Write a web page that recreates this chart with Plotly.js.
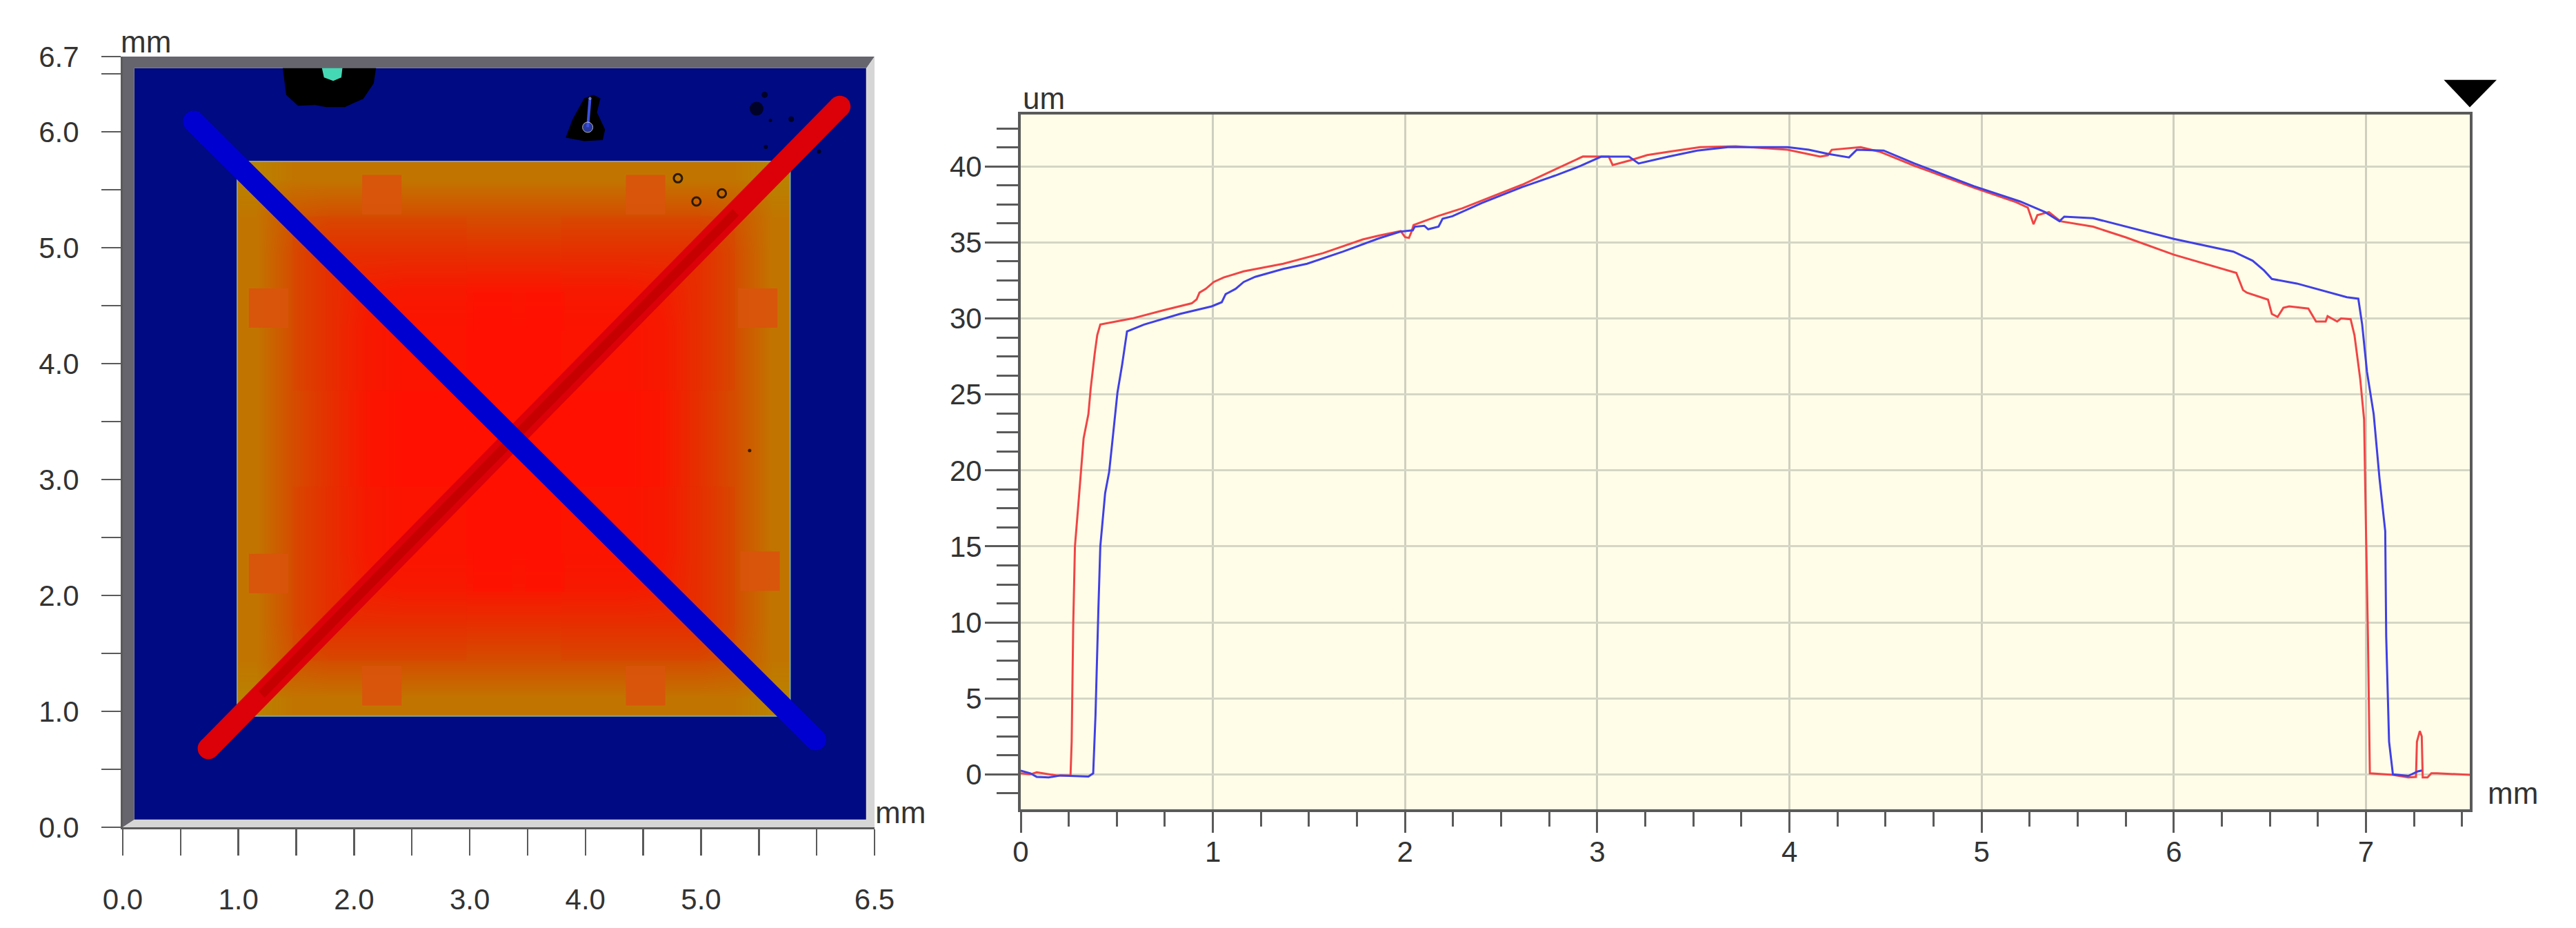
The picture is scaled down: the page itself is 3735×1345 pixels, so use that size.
<!DOCTYPE html>
<html><head><meta charset="utf-8">
<script src="https://cdn.plot.ly/plotly-3.0.1.min.js"></script>
<style>html,body{margin:0;padding:0;background:#fff}#c{width:3735px;height:1345px}</style>
</head><body><div id="c"></div>
<script>
// ---------- profile chart data (mm, um) ----------
const redX=[0,.05,.083,.145,.186,.259,.265,.273,.282,.30,.32,.327,.352,.364,.385,.398,.414,.58,.745,.89,.915,.93,.963,1.004,1.056,1.16,1.366,1.573,1.78,1.863,1.977,2.0,2.02,2.033,2.044,2.174,2.298,2.45,2.609,2.78,2.925,3.06,3.08,3.17,3.26,3.37,3.535,3.72,3.99,4.16,4.2,4.22,4.37,4.47,4.65,4.96,5.18,5.24,5.27,5.29,5.35,5.41,5.58,5.75,6,6.325,6.36,6.38,6.49,6.51,6.54,6.57,6.6,6.7,6.74,6.79,6.8,6.85,6.87,6.92,6.94,6.97,6.99,7.0,7.01,7.02,7.14,7.22,7.26,7.265,7.28,7.29,7.295,7.32,7.34,7.37,7.54];
const redY=[.07,0,.14,.03,-.07,-.07,2.15,9.8,15,17.8,20.9,22.1,23.7,25.4,27.7,28.9,29.6,30,30.55,31,31.25,31.7,31.95,32.4,32.7,33.1,33.6,34.3,35.2,35.45,35.75,35.35,35.3,35.7,36.15,36.75,37.25,38,38.8,39.8,40.66,40.65,40.1,40.4,40.75,40.97,41.27,41.33,41.1,40.65,40.74,41.1,41.27,40.97,40.05,38.6,37.65,37.3,36.2,36.8,37,36.4,36.04,35.34,34.2,33,31.87,31.7,31.24,30.3,30.1,30.7,30.8,30.65,29.8,29.8,30.15,29.8,30,29.95,28.9,26,23.35,16,9.1,.07,-.03,-.2,-.17,2.15,2.85,2.5,-.2,-.2,.07,.07,-.03];
const blueX=[0,.05,.083,.145,.207,.352,.377,.389,.404,.414,.439,.46,.48,.503,.528,.553,.642,.828,.994,1.046,1.066,1.118,1.16,1.22,1.366,1.49,1.677,1.863,1.977,2.04,2.05,2.10,2.12,2.174,2.195,2.246,2.40,2.609,2.78,2.915,3.02,3.165,3.215,3.37,3.52,3.68,3.99,4.10,4.2,4.31,4.35,4.49,4.65,4.96,5.2,5.33,5.405,5.43,5.58,6,6.31,6.41,6.47,6.51,6.64,6.9,6.96,6.98,7.005,7.04,7.07,7.1,7.105,7.12,7.14,7.22,7.27,7.29];
const blueY=[.24,.07,-.17,-.2,-.07,-.14,.07,3.9,10.85,15,18.5,19.9,22.3,25.1,27,29.15,29.6,30.3,30.8,31.07,31.6,31.95,32.4,32.74,33.26,33.6,34.4,35.27,35.72,35.8,36.04,36.1,35.87,36.04,36.56,36.73,37.6,38.65,39.4,40.05,40.65,40.65,40.2,40.65,41.05,41.27,41.27,41.1,40.83,40.6,41.1,41.05,40.2,38.7,37.7,37,36.4,36.7,36.6,35.24,34.4,33.8,33.15,32.6,32.3,31.4,31.3,29.6,26.5,23.7,19.5,16,9.1,2.15,0,-.1,.2,.25];
const cursorX=[7.405,7.68,7.54];
const cursorY=[45.7,45.7,43.9];

// ---------- height map data (mm, um) ----------
const chipX=[1.15,1.47,1.79,2.11,2.43,2.75,3.06,3.38,3.70,4.02,4.34,4.66,4.97,5.29,5.61];
const chipY=[1.12,1.44,1.76,2.08,2.40,2.72,3.04,3.35,3.67,3.99,4.31,4.63,4.95,5.27,5.59];
const chipZ=[
[30,30.5,30.5,30.5,30.5,30.5,30.5,30.5,30.5,30.5,30.5,30.5,30.5,30.5,30],
[30.5,32.5,33,33,33,33,33,33,33,33,33,33,33,32.5,30.5],
[30.5,33,35,35,35,35,35,35,35,35,35,35,35,33,30.5],
[30.5,33,35,37,37.5,37.5,37.5,37.5,37.5,37.5,37.5,37,35,33,30.5],
[30.5,33,35,37.5,39,39,39,39,39,39,39,37.5,35,33,30.5],
[30.5,33,35,37.5,39,40,40,40,40,40,39,37.5,35,33,30.5],
[30.5,33,35,37.5,39,40,41,41,41,40,39,37.5,35,33,30.5],
[30.5,33,35,37.5,39,40,41,41,41,40,39,37.5,35,33,30.5],
[30.5,33,35,37.5,39,40,41,41,41,40,39,37.5,35,33,30.5],
[30.5,33,35,37.5,39,40,40,40,40,40,39,37.5,35,33,30.5],
[30.5,33,35,37.5,39,39,39,39,39,39,39,37.5,35,33,30.5],
[30.5,33,35,37,37.5,37.5,37.5,37.5,37.5,37.5,37.5,37,35,33,30.5],
[30.5,33,35,35,35,35,35,35,35,35,35,35,35,33,30.5],
[30.5,32.5,33,33,33,33,33,33,33,33,33,33,33,32.5,30.5],
[30,30.5,30.5,30.5,30.5,30.5,30.5,30.5,30.5,30.5,30.5,30.5,30.5,30.5,30]];
const fieldX=[.1,6.43], fieldY=[.066,6.55], fieldZ=[[0]];
const blockX=[2.22,4.54,2.22,4.54], blockY=[4.52,4.52,2.19,2.19];
const padX=[2.24,4.52,1.26,5.49,1.26,5.51,2.24,4.52];
const padY=[5.46,5.46,4.48,4.48,2.19,2.21,1.22,1.22];
const innerPadX=[3.2,3.65,3.2,3.65], innerPadY=[4.45,4.45,2.2,2.2];
const outlineX=[.99,5.77,5.77,.99,.99], outlineY=[.96,.96,5.745,5.745,.96];
const voidAX=[1.383,1.413,1.515,1.664,1.76,1.92,2.08,2.17,2.19];
const voidAY=[6.554,6.32,6.226,6.232,6.214,6.214,6.286,6.42,6.554];
const tealX=[1.72,1.90,1.89,1.82,1.74], tealY=[6.56,6.56,6.47,6.44,6.47];
const voidBX=[3.83,3.89,3.99,4.07,4.13,4.10,4.17,4.15,3.99];
const voidBY=[5.95,6.11,6.29,6.32,6.29,6.17,6.02,5.93,5.92];
const stemX=[4.04,4.02], stemY=[6.29,6.04];
const speckX=[5.48,5.55,5.78,5.56,6.02,5.42,5.6], speckY=[6.2,6.32,6.11,5.87,5.83,3.25,6.1];
const speckS=[20,9,8,6,6,5,5];
const ringX=[4.80,4.96,5.18], ringY=[5.60,5.40,5.47];
const redCutX=[.74,6.2], redCutY=[.68,6.22];
const redCoreX=[1.2,5.3], redCoreY=[1.147,5.307];
const blueCutX=[.614,5.99], blueCutY=[6.09,.756];
const frameDarkX=[0,0,6.5,6.43,.1,.1], frameDarkY=[0,6.65,6.65,6.55,6.55,.066];
const frameLightX=[6.5,6.5,0,.1,6.43,6.43], frameLightY=[6.65,0,0,.066,.066,6.55];
const mapTicksX=[0,.5,1,1.5,2,2.5,3,3.5,4,4.5,5,5.5,6,6.5];
const mapLabelsX=['0.0','','1.0','','2.0','','3.0','','4.0','','5.0','','','6.5'];
const mapTicksY=[0,.5,1,1.5,2,2.5,3,3.5,4,4.5,5,5.5,6,6.5,6.65];
const mapLabelsY=['0.0','','1.0','','2.0','','3.0','','4.0','','5.0','','6.0','','6.7'];

const W=3735,H=1345;
const fx=p=>p/W, fy=p=>(H-p)/H;
const txt='#333333', axc='#5a5a5a';
const font={family:'"Liberation Sans",Arial,sans-serif',size:42,color:txt};
const s={xaxis:'x',yaxis:'y'};
const poly=(x,y,c)=>({...s,type:'scatter',mode:'lines',x,y,fill:'toself',fillcolor:c,line:{width:0},hoverinfo:'skip'});
const traces=[
 {...s,type:'heatmap',x:fieldX,y:fieldY,z:fieldZ,zmin:0,zmax:1,showscale:false,colorscale:[[0,'#000a82'],[1,'#000a82']]},
 {...s,type:'heatmap',x:chipX,y:chipY,z:chipZ,zmin:30,zmax:41,zsmooth:'best',showscale:false,
  colorscale:[[0,'rgb(186,130,0)'],[.05,'rgb(194,116,0)'],[.27,'rgb(212,78,0)'],[.45,'rgb(230,48,0)'],[.68,'rgb(250,22,0)'],[.82,'rgb(255,16,0)'],[1,'rgb(255,16,0)']]},
 {...s,type:'scatter',mode:'markers',x:blockX,y:blockY,marker:{symbol:'square',size:252,color:'#e82800',opacity:.14,line:{width:0}}},
 {...s,type:'scatter',mode:'markers',x:padX,y:padY,marker:{symbol:'square',size:57,color:'#d9540c',opacity:.95,line:{width:0}}},
 {...s,type:'scatter',mode:'markers',x:innerPadX,y:innerPadY,marker:{symbol:'square',size:56,color:'#ff1000',opacity:.6,line:{width:0}}},
 {...s,type:'scatter',mode:'lines',x:outlineX,y:outlineY,line:{color:'#7fa3a0',width:2}},
 poly(voidAX,voidAY,'#000000'),
 poly(tealX,tealY,'#45d8b4'),
 poly(voidBX,voidBY,'#000000'),
 {...s,type:'scatter',mode:'lines+markers',x:stemX,y:stemY,line:{color:'#3a50e0',width:4},marker:{size:[3,15],color:'#3a50e0'}},
 {...s,type:'scatter',mode:'markers',x:speckX,y:speckY,marker:{size:speckS,color:'#000000',line:{width:0}}},
 {...s,type:'scatter',mode:'markers',x:ringX,y:ringY,marker:{symbol:'circle-open',size:12,color:'#2a1a00',line:{width:3,color:'#2a1a00'}}},
 {...s,type:'scatter',mode:'lines+markers',x:redCutX,y:redCutY,line:{color:'#dc0008',width:31},marker:{size:31,color:'#dc0008',line:{width:0}}},
 {...s,type:'scatter',mode:'lines',x:redCoreX,y:redCoreY,line:{color:'#c60000',width:13}},
 {...s,type:'scatter',mode:'lines+markers',x:blueCutX,y:blueCutY,line:{color:'#0000d0',width:31},marker:{size:31,color:'#0000d0',line:{width:0}}},
 poly(frameDarkX,frameDarkY,'#66656e'),
 poly(frameLightX,frameLightY,'#d6d6d6'),
 {type:'scatter',mode:'lines',xaxis:'x2',yaxis:'y2',x:redX,y:redY,line:{color:'#f04545',width:3}},
 {type:'scatter',mode:'lines',xaxis:'x2',yaxis:'y2',x:blueX,y:blueY,line:{color:'#4040e4',width:3}}
];
const note=(t,px,py)=>({text:t,xref:'paper',yref:'paper',x:fx(px),y:fy(py),showarrow:false,xanchor:'center',yanchor:'middle',font:{...font,size:44}});
// the cursor sits outside the plot frame, so its axis values are mapped to paper space
const px2=v=>fx(1480)+(v/7.54)*(fx(3581)-fx(1480));
const py2=v=>fy(1173)+((v+2.3)/45.72)*(fy(166)-fy(1173));
const layout={
 width:W,height:H,margin:{l:0,r:0,t:0,b:0,pad:0},paper_bgcolor:'#ffffff',plot_bgcolor:'#fffde8',showlegend:false,font,
 xaxis:{domain:[fx(178),fx(1268)],range:[0,6.5],anchor:'y',showgrid:false,zeroline:false,tickmode:'array',tickvals:mapTicksX,ticktext:mapLabelsX,ticks:'outside',ticklen:38,tickwidth:2.5,tickcolor:axc,showline:true,linecolor:axc,linewidth:3,ticklabelstandoff:28},
 yaxis:{domain:[fy(1199),fy(82)],range:[0,6.65],anchor:'x',showgrid:false,zeroline:false,tickmode:'array',tickvals:mapTicksY,ticktext:mapLabelsY,ticks:'outside',ticklen:28,tickwidth:2.5,tickcolor:axc,showline:true,linecolor:axc,linewidth:3,ticklabelstandoff:24},
 xaxis2:{domain:[fx(1480),fx(3581)],range:[0,7.54],anchor:'y2',dtick:1,tick0:0,showgrid:true,gridcolor:'#cfcfc0',gridwidth:3,zeroline:false,ticks:'outside',ticklen:30,tickwidth:3,tickcolor:axc,showline:true,mirror:true,linecolor:axc,linewidth:4,ticklabelstandoff:-8,
  minor:{dtick:.25,ticks:'outside',ticklen:21,tickwidth:3,tickcolor:axc,showgrid:false}},
 yaxis2:{domain:[fy(1173),fy(166)],range:[-2.3,43.42],anchor:'x2',dtick:5,tick0:0,showgrid:true,gridcolor:'#d6d6c6',gridwidth:3,zeroline:false,ticks:'outside',ticklen:48,tickwidth:3,tickcolor:axc,showline:true,mirror:true,linecolor:axc,linewidth:4,ticklabelstandoff:-4,
  minor:{dtick:1.25,ticks:'outside',ticklen:31,tickwidth:3,tickcolor:axc,showgrid:false}},
 shapes:[{type:'path',xref:'paper',yref:'paper',layer:'above',line:{width:0},fillcolor:'#000000',
  path:'M'+cursorX.map((v,i)=>px2(v)+','+py2(cursorY[i])).join(' L')+' Z'}],
 annotations:[note('mm',211,60),note('mm',1305,1177),note('um',1513,143),note('mm',3643,1149)]
};
Plotly.newPlot('c',traces,layout,{displayModeBar:false,staticPlot:true});
</script></body></html>
